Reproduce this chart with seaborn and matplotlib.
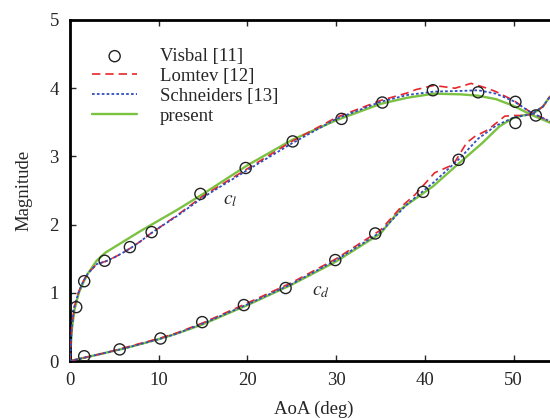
import numpy as np
import pandas as pd
import matplotlib
matplotlib.use("Agg")
import matplotlib.pyplot as plt
import seaborn as sns

# --- data ---
visbal_cl_aoa = [0.7, 1.6, 3.9, 6.75, 9.2, 14.7, 19.8, 25.1, 30.6, 35.2, 40.9, 46.0, 50.2, 52.5]
visbal_cl = [0.79, 1.17, 1.47, 1.67, 1.89, 2.45, 2.83, 3.22, 3.55, 3.79, 3.97, 3.94, 3.80, 3.60]
visbal_cd_aoa = [1.6, 5.6, 10.2, 14.9, 19.6, 24.3, 29.9, 34.4, 39.8, 43.8, 50.2]
visbal_cd = [0.07, 0.17, 0.33, 0.57, 0.82, 1.07, 1.48, 1.87, 2.48, 2.95, 3.49]

present_cl_aoa = [0, 0.2, 0.5, 1, 1.5, 2, 3, 4, 6, 8, 10, 12, 15, 20, 25, 30, 35, 38, 41, 44, 46, 48, 50, 52, 54, 55]
present_cl = [0, 0.45, 0.75, 1.0, 1.15, 1.28, 1.47, 1.59, 1.75, 1.91, 2.06, 2.21, 2.45, 2.87, 3.24, 3.53, 3.77, 3.86, 3.92, 3.91, 3.89, 3.84, 3.74, 3.61, 3.50, 3.45]

lomtev_cl_aoa = [0, 0.2, 0.5, 1, 1.5, 2, 3, 4, 5, 6, 7, 8, 9, 10, 12, 15, 20, 25, 30, 35, 38, 39, 41, 43.4, 45.2, 47, 48, 50, 52, 54, 55]
lomtev_cl = [0, 0.5, 0.8, 1.02, 1.17, 1.28, 1.42, 1.46, 1.52, 1.59, 1.67, 1.76, 1.86, 1.95, 2.13, 2.42, 2.82, 3.22, 3.57, 3.82, 3.93, 3.98, 4.04, 4.0, 4.07, 4.0, 3.95, 3.82, 3.64, 3.52, 3.46]

schn_cl_aoa = [0, 0.2, 0.5, 1, 1.5, 2, 3, 4, 5, 6, 7, 8, 9, 10, 12, 15, 20, 25, 30, 35, 38, 41, 44, 46, 48, 50, 52, 54, 55]
schn_cl = [0, 0.5, 0.8, 1.02, 1.17, 1.28, 1.42, 1.46, 1.52, 1.59, 1.67, 1.76, 1.86, 1.95, 2.12, 2.40, 2.80, 3.19, 3.55, 3.80, 3.90, 3.95, 3.96, 3.97, 3.92, 3.81, 3.64, 3.52, 3.46]

present_cd_aoa = [0, 1, 2, 4, 6, 8, 10, 12, 15, 20, 25, 30, 35, 37.2, 40.9, 43.5, 46.5, 48.4, 49.9, 51, 52.1, 53.3, 54, 55]
present_cd = [0, 0.03, 0.06, 0.12, 0.18, 0.25, 0.32, 0.40, 0.54, 0.82, 1.12, 1.46, 1.87, 2.22, 2.56, 2.86, 3.2, 3.44, 3.56, 3.6, 3.62, 3.73, 3.86, 4.0]

lomtev_cd_aoa = [0, 1, 2, 4, 6, 8, 10, 12, 15, 20, 25, 30, 35, 37.4, 38.9, 41.1, 43.2, 44.7, 45.6, 47.1, 49, 50.1, 51, 52.1, 53.3, 54, 55]
lomtev_cd = [0, 0.03, 0.06, 0.12, 0.19, 0.26, 0.33, 0.41, 0.56, 0.85, 1.15, 1.50, 1.92, 2.27, 2.44, 2.76, 2.88, 3.20, 3.29, 3.39, 3.59, 3.60, 3.60, 3.62, 3.73, 3.86, 4.0]

schn_cd_aoa = [0, 1, 2, 4, 6, 8, 10, 12, 15, 20, 25, 30, 35, 38, 41, 44, 46, 48, 50, 52, 53.3, 54, 55]
schn_cd = [0, 0.03, 0.06, 0.12, 0.18, 0.25, 0.32, 0.40, 0.55, 0.83, 1.13, 1.48, 1.89, 2.30, 2.62, 2.98, 3.26, 3.45, 3.57, 3.62, 3.73, 3.86, 4.0]

x_ticks = [0, 10, 20, 30, 40, 50]
y_ticks = [0, 1, 2, 3, 4, 5]

# --- style ---
sns.set_style("ticks")
plt.rcParams["font.family"] = ["Liberation Serif", "DejaVu Serif"]
plt.rcParams["mathtext.fontset"] = "stix"

RED = "#e8262a"
BLUE = "#2f4fc0"
GREEN = "#7cc242"
FS = 13.5

fig = plt.figure(figsize=(5.5, 4.18), dpi=100)
# axes runs a little past the right edge, like the cropped original
ax = fig.add_axes([70 / 550, 57 / 418, 488 / 550, 341 / 418])

# circles (Visbal)
sns.scatterplot(x=visbal_cl_aoa, y=visbal_cl, ax=ax, marker="o", s=64,
                facecolors="none", edgecolor="#222222", linewidth=1.0,
                label="Visbal [11]", zorder=5)
sns.scatterplot(x=visbal_cd_aoa, y=visbal_cd, ax=ax, marker="o", s=64,
                facecolors="none", edgecolor="#222222", linewidth=1.0,
                zorder=5)

# Lomtev
sns.lineplot(x=lomtev_cl_aoa, y=lomtev_cl, ax=ax, color=RED, lw=1.2,
             linestyle=(0, (5, 3)), label="Lomtev [12]", zorder=3)
sns.lineplot(x=lomtev_cd_aoa, y=lomtev_cd, ax=ax, color=RED, lw=1.2,
             linestyle=(0, (5, 3)), zorder=3)
# Schneiders
sns.lineplot(x=schn_cl_aoa, y=schn_cl, ax=ax, color=BLUE, lw=1.3,
             linestyle=(0, (1.5, 1.2)), label="Schneiders [13]", zorder=4)
sns.lineplot(x=schn_cd_aoa, y=schn_cd, ax=ax, color=BLUE, lw=1.3,
             linestyle=(0, (1.5, 1.2)), zorder=4)
# present
sns.lineplot(x=present_cl_aoa, y=present_cl, ax=ax, color=GREEN, lw=1.7,
             label="present", zorder=2)
sns.lineplot(x=present_cd_aoa, y=present_cd, ax=ax, color=GREEN, lw=1.7,
             zorder=2)

ax.set_xlim(0, 55)
ax.set_ylim(0, 5)
ax.set_xticks(x_ticks)
ax.set_yticks(y_ticks)
ax.tick_params(direction="in", length=4, width=1, labelsize=FS, pad=8,
               top=True, right=True)
for side in ["left", "bottom", "top", "right"]:
    ax.spines[side].set_linewidth(2)
    ax.spines[side].set_color("black")

ax.set_xlabel("AoA (deg)", fontsize=FS, labelpad=8)
ax.set_ylabel("Magnitude", fontsize=FS, labelpad=12)

ax.text(17.2, 2.30, r"$c_l$", fontsize=14)
ax.text(27.3, 0.96, r"$c_d$", fontsize=14)

leg = ax.legend(loc="upper left", bbox_to_anchor=(0.03, 0.94), frameon=False,
                fontsize=FS, handlelength=2.4, labelspacing=0.15,
                handletextpad=1.2, borderaxespad=0)

fig.savefig("out.png", dpi=100)
